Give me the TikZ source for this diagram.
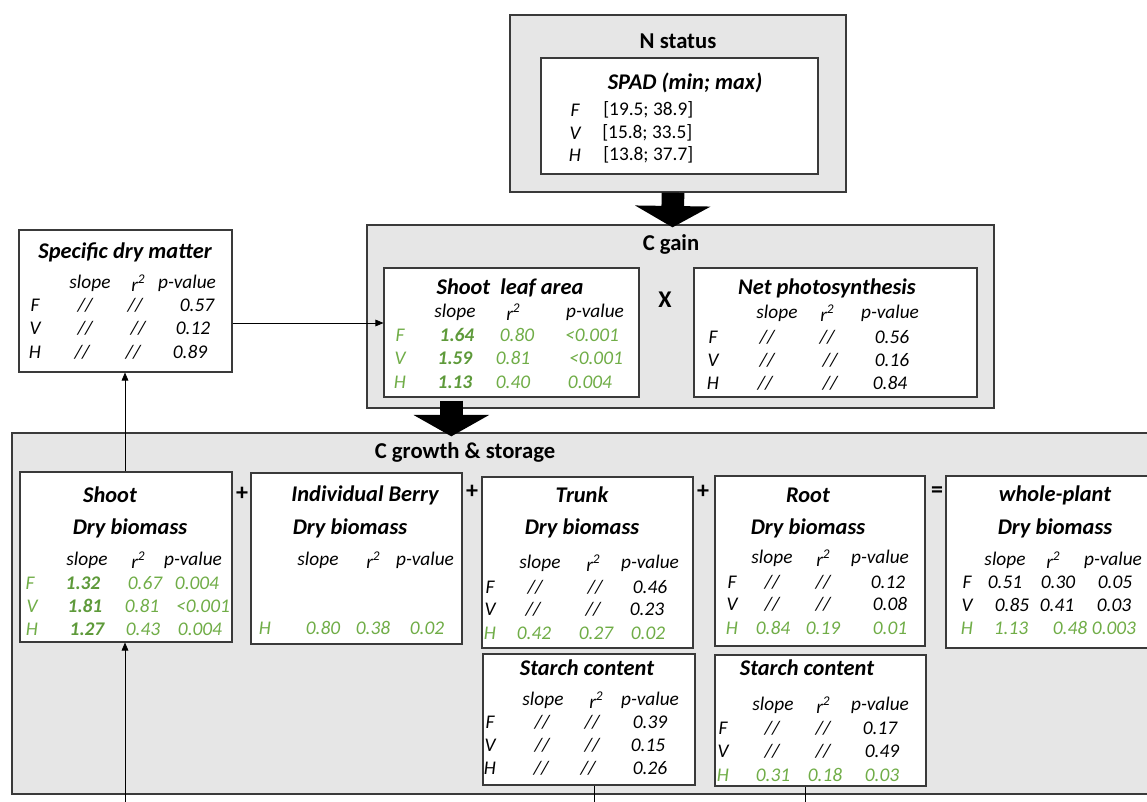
\documentclass[tikz,border=0pt]{standalone}
\usepackage{fontspec}
\setmainfont{Carlito}
\usetikzlibrary{arrows.meta,fit,calc}
\definecolor{lgreen}{HTML}{70AD47}
\definecolor{dgreen}{HTML}{5E9A3A}
\definecolor{panel}{HTML}{E6E6E6}
\definecolor{edge}{HTML}{3A3A3A}
\newcounter{tn}
\newcommand\T[3][]{\stepcounter{tn}\node[txt,#1] (t\arabic{tn}) at (#2) {#3};}
\newcommand\Bx[4]{\node[#1, fit={#3 #4}] (#2) {};}
\newcommand\rsq{r\raisebox{0.42em}{\fontsize{10}{10}\selectfont 2}}
\begin{document}
\begin{tikzpicture}[x=0.75pt,y=-0.75pt,
 txt/.style={inner sep=0pt, font=\fontsize{14.5}{16}\selectfont\itshape, text=black},
 g/.style={text=lgreen},
 gb/.style={text=dgreen, font=\fontsize{14.5}{16}\selectfont\bfseries\itshape},
 up/.style={font=\fontsize{14.5}{16}\selectfont},
 ttl/.style={font=\fontsize{16.8}{18}\selectfont\bfseries\itshape},
 head/.style={font=\fontsize{17}{19}\selectfont\bfseries},
 op/.style={font=\fontsize{18}{20}\selectfont\bfseries},
 panelbox/.style={draw=edge, fill=panel, line width=1pt, inner sep=0pt},
 wbox/.style={draw=edge, fill=white, line width=0.8pt, inner sep=0pt},
 thinarrow/.style={draw=black, line width=0.6pt, -{Triangle[length=6pt,width=5pt]}},
 thinline/.style={draw=black, line width=0.6pt},
 big/.style={line width=17pt, -{Triangle[width=56pt,length=16pt]}},
]
\useasboundingbox (0,0) rectangle (1147,802);
\clip (0,0) rectangle (1147,802);

% ---------- panels ----------
\Bx{panelbox}{nst}{(510,15)}{(846,192)}
\Bx{panelbox}{cgain}{(367,225)}{(994,408)}
\Bx{panelbox}{cgrow}{(12,433)}{(1160,794)}

% ---------- N status ----------
\T[head]{678,41}{N status}
\Bx{wbox}{spad}{(541,58)}{(818,174)}
\T[ttl]{685,83}{SPAD (min; max)}
\T{575,110}{F}
\T{575,133}{V}
\T{575,155}{H}
\T[up,anchor=west]{603,110}{[19.5; 38.9]}
\T[up,anchor=west]{602,133}{[15.8; 33.5]}
\T[up,anchor=west]{603,155}{[13.8; 37.7]}

% ---------- Specific dry matter ----------
\Bx{wbox}{sdm}{(19,230)}{(232,372)}
\T[ttl]{125,252}{Specific dry matter}
\T{90,283}{slope}
\T{138,283}{\rsq}
\T{187,283}{p-value}
\T{35,305}{F}
\T{35,328}{V}
\T{35,352}{H}
\T{85,305}{//}
\T{85,328}{//}
\T{82,352}{//}
\T{135,305}{//}
\T{138,328}{//}
\T{133,352}{//}
\T{197,305}{0.57}
\T{193,328}{0.12}
\T{190,352}{0.89}

% ---------- C gain ----------
\T[head]{671,244}{C gain}
\Bx{wbox}{sla}{(384,268)}{(639,397)}
\T[ttl]{510,288}{Shoot\hspace{0.45em}leaf area}
\T{455,312}{slope}
\T{513,312}{\rsq}
\T{595,312}{p-value}
\T[g]{400,335}{F}
\T[g]{400,358}{V}
\T[g]{400,382}{H}
\T[gb]{457,335}{1.64}
\T[gb]{455,358}{1.59}
\T[gb]{455,382}{1.13}
\T[g]{517,335}{0.80}
\T[g]{513,358}{0.81}
\T[g]{513,382}{0.40}
\T[g]{592,335}{<0.001}
\T[g]{596,358}{<0.001}
\T[g]{590,382}{0.004}

\T[op]{665,300}{X}

\Bx{wbox}{nps}{(694,268)}{(977,397)}
\T[ttl]{827,288}{Net photosynthesis}
\T{777,313}{slope}
\T{827,313}{\rsq}
\T{890,313}{p-value}
\T{713,337}{F}
\T{713,360}{V}
\T{713,383}{H}
\T{767,337}{//}
\T{767,360}{//}
\T{765,383}{//}
\T{827,337}{//}
\T{830,360}{//}
\T{830,383}{//}
\T{892,337}{0.56}
\T{892,360}{0.16}
\T{890,383}{0.84}

% ---------- C growth & storage ----------
\T[head]{465,452}{C growth \& storage}

% Shoot
\Bx{wbox}{shoot}{(20,472)}{(232,642)}
\T[ttl]{110,495}{Shoot}
\T[ttl]{130,528}{Dry biomass}
\T{87,560}{slope}
\T{138,560}{\rsq}
\T{193,560}{p-value}
\T[g]{30,583}{F}
\T[g]{32,606}{V}
\T[g]{32,629}{H}
\T[gb]{83,583}{1.32}
\T[gb]{85,606}{1.81}
\T[gb]{87,629}{1.27}
\T[g]{145,583}{0.67}
\T[g]{142,606}{0.81}
\T[g]{143,629}{0.43}
\T[g]{197,583}{0.004}
\T[g]{203,606}{<0.001}
\T[g]{200,629}{0.004}

\T[op]{242,494}{+}

% Individual berry
\Bx{wbox}{berry}{(251,473)}{(462,644)}
\T[ttl]{365,495}{Individual Berry}
\T[ttl]{350,528}{Dry biomass}
\T{318,560}{slope}
\T{373,560}{\rsq}
\T{425,560}{p-value}
\T[g]{265,628}{H}
\T[g]{323,628}{0.80}
\T[g]{373,628}{0.38}
\T[g]{427,628}{0.02}

\T[op]{472,492}{+}

% Trunk
\Bx{wbox}{trunk}{(482,477)}{(693,648)}
\T[ttl]{582,495}{Trunk}
\T[ttl]{582,528}{Dry biomass}
\T{540,563}{slope}
\T{593,563}{\rsq}
\T{650,563}{p-value}
\T{490,587}{F}
\T{490,609}{V}
\T[g]{490,633}{H}
\T{535,587}{//}
\T{533,609}{//}
\T{595,587}{//}
\T{593,609}{//}
\T{650,587}{0.46}
\T{647,609}{0.23}
\T[g]{534,633}{0.42}
\T[g]{596,633}{0.27}
\T[g]{648,633}{0.02}

\T[op]{703,492}{+}

% Root
\Bx{wbox}{root}{(715,476)}{(925,646)}
\T[ttl]{808,495}{Root}
\T[ttl]{808,528}{Dry biomass}
\T{772,558}{slope}
\T{823,558}{\rsq}
\T{880,558}{p-value}
\T{732,582}{F}
\T{732,604}{V}
\T[g]{732,628}{H}
\T{772,582}{//}
\T{772,604}{//}
\T{823,582}{//}
\T{823,604}{//}
\T{888,582}{0.12}
\T{890,604}{0.08}
\T[g]{773,628}{0.84}
\T[g]{823,628}{0.19}
\T[g]{890,628}{0.01}

\T[op]{937,492}{=}

% Whole plant
\Bx{wbox}{whole}{(946,476)}{(1152,648)}
\T[ttl]{1055,495}{whole-plant}
\T[ttl]{1055,528}{Dry biomass}
\T{1005,560}{slope}
\T{1053,560}{\rsq}
\T{1113,560}{p-value}
\T{967,582}{F}
\T{967,605}{V}
\T[g]{967,628}{H}
\T{1005,582}{0.51}
\T{1058,582}{0.30}
\T{1115,582}{0.05}
\T{1012,605}{0.85}
\T{1057,605}{0.41}
\T{1114,605}{0.03}
\T[g]{1011,628}{1.13}
\T[g]{1070,628}{0.48}
\T[g]{1114,628}{0.003}

% Starch content (trunk)
\Bx{wbox}{strunk}{(483,654)}{(695,785)}
\T[ttl]{587,668}{Starch content}
\T{543,700}{slope}
\T{596,700}{\rsq}
\T{650,700}{p-value}
\T{490,722}{F}
\T{490,745}{V}
\T{490,768}{H}
\T{542,722}{//}
\T{542,745}{//}
\T{541,768}{//}
\T{592,722}{//}
\T{592,745}{//}
\T{588,768}{//}
\T{650,722}{0.39}
\T{648,745}{0.15}
\T{650,768}{0.26}

% Starch content (root)
\Bx{wbox}{sroot}{(715,655)}{(926,786)}
\T[ttl]{807,668}{Starch content}
\T{773,705}{slope}
\T{823,705}{\rsq}
\T{880,705}{p-value}
\T{723,728}{F}
\T{723,751}{V}
\T[g]{723,775}{H}
\T{772,728}{//}
\T{772,751}{//}
\T{823,728}{//}
\T{823,751}{//}
\T{880,728}{0.17}
\T{882,751}{0.49}
\T[g]{773,775}{0.31}
\T[g]{825,775}{0.18}
\T[g]{882,775}{0.03}

% ---------- connectors ----------
\draw[big] ($(nst.south)+(-5,0)$) -- ($(cgain.north)+(-8,3)$);
\draw[big] ($(cgain.south west)+(85,-8)$) -- ($(cgrow.north west)+(440,4)$);
\draw[thinarrow] (sdm.east |- 0,323) -- (sla.west |- 0,323);
\draw[thinarrow] (shoot.north -| 125,0) -- (sdm.south -| 125,0);
\coordinate (bot1) at (125,802);
\draw[thinarrow] (bot1) -- (shoot.south -| bot1);
\coordinate (bot2) at (594,802);
\coordinate (bot3) at (805,802);
\draw[thinline] (strunk.south -| bot2) -- (bot2);
\draw[thinline] (sroot.south -| bot3) -- (bot3);
\end{tikzpicture}
\end{document}
